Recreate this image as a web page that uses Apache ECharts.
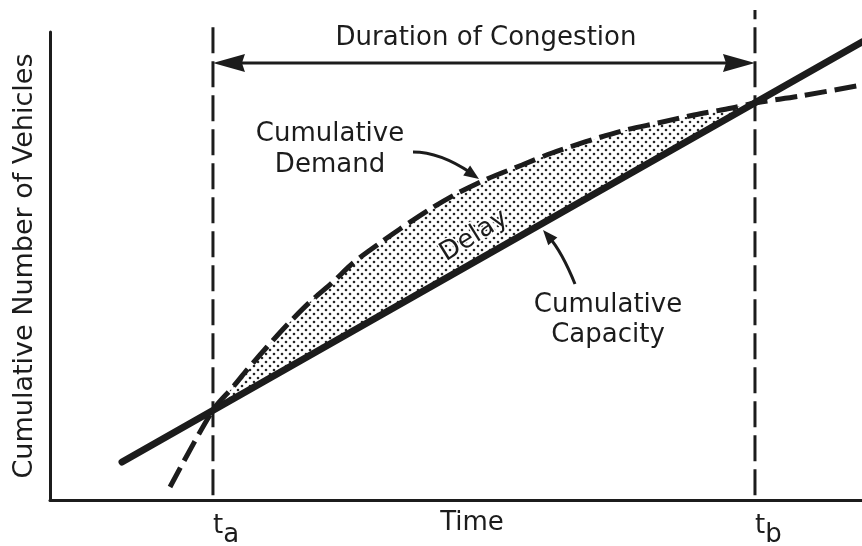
<!DOCTYPE html>
<html><head><meta charset="utf-8">
<script src="https://cdn.jsdelivr.net/npm/echarts@6/dist/echarts.min.js"></script>
<style>html,body{margin:0;padding:0;background:#fff}#c{width:862px;height:546px}</style>
</head><body><div id="c"></div>
<script>
// ---- data (abstract units: time 0..100, vehicles 0..100) ----
const ta = 20.07, tb = 86.82;
const tickValues = [ta, tb];
const tickSubs = ['a', 'b'];
const capacityT = [8.87, 100];
const capacityV = [8.12, 97.86];
const demandT = [14.78, 20.07, 22.54, 24.26, 26.72, 29.19, 32.02, 34.85, 37.32, 40.64, 43.10, 47.04, 50.25, 53.82, 58.13, 61.82, 65.89, 70.44, 74.88, 79.31, 83.99, 86.82, 92.36, 100];
const demandV = [2.78, 19.23, 24.15, 27.78, 32.69, 37.39, 42.31, 46.58, 50.64, 54.91, 57.91, 62.39, 65.60, 68.59, 71.58, 74.15, 76.50, 78.85, 80.56, 82.26, 83.76, 84.83, 86.32, 88.68];
const taLineV = [1, 102.1];
const tbLineV = [1, 104.7];
const durationV = 93.4;

const ink = '#1c1c1c';
const FONT = 'DejaVu Sans';

// dotted pattern for the delay area
const pc = document.createElement('canvas'); pc.width = 8; pc.height = 8;
const g = pc.getContext('2d'); g.fillStyle = '#262626';
[[2, 2], [6, 6]].forEach(([x, y]) => { g.beginPath(); g.arc(x, y, 1.3, 0, Math.PI * 2); g.fill(); });
const dotPattern = { image: pc, repeat: 'repeat' };

function arrowHead(tip, from, L, W) {
  const dx = tip[0] - from[0], dy = tip[1] - from[1];
  const len = Math.hypot(dx, dy); const ux = dx / len, uy = dy / len;
  const bx = tip[0] - ux * L, by = tip[1] - uy * L;
  return [tip, [bx - uy * W, by + ux * W], [bx + uy * W, by - ux * W]];
}

const chart = echarts.init(document.getElementById('c'), null, { renderer: 'canvas' });
const zip = (a, b) => a.map((v, i) => [v, b[i]]);

const demArrowStart = [413, 152], demArrowCtrl = [440, 152], demArrowTip = [479, 179];
const capArrowStart = [575, 284], capArrowCtrl = [562, 252], capArrowTip = [543, 230];

chart.setOption({
  backgroundColor: '#ffffff',
  animation: false,
  grid: { left: 50, right: 0, top: 32, bottom: 46, containLabel: false, outerBoundsMode: 'none' },
  xAxis: {
    type: 'value', min: 0, max: 100,
    axisLine: { show: true, lineStyle: { color: ink, width: 3 } },
    axisTick: { show: false }, splitLine: { show: false },
    axisLabel: {
      show: true, customValues: tickValues, align: 'left', margin: 13,
      formatter: v => '{t|t}{s|' + tickSubs[tickValues.findIndex(x => Math.abs(x - v) < 1e-6)] + '}',
      rich: {
        t: { fontFamily: FONT, fontSize: 26, color: ink, height: 26, lineHeight: 26, verticalAlign: 'top' },
        s: { fontFamily: FONT, fontSize: 26, color: ink, height: 26, lineHeight: 35, verticalAlign: 'bottom' }
      }
    },
    name: 'Time', nameLocation: 'middle', nameGap: 10, nameMoveOverlap: false,
    nameTextStyle: { fontFamily: FONT, fontSize: 26, color: ink, verticalAlign: 'top', padding: [0, 0, 0, 32] }
  },
  yAxis: {
    type: 'value', min: 0, max: 100,
    axisLine: { show: true, lineStyle: { color: ink, width: 3 } },
    axisTick: { show: false }, splitLine: { show: false }, axisLabel: { show: false },
    name: 'Cumulative Number of Vehicles', nameLocation: 'middle', nameRotate: 90, nameGap: 12, nameMoveOverlap: false,
    nameTextStyle: { fontFamily: FONT, fontSize: 27, color: ink }
  },
  series: [
    { type: 'custom', silent: true, z: 1, data: [[ta, 0]],
      renderItem: (p, api) => {
        const pts = [];
        for (let i = 0; i < demandT.length; i++) {
          if (demandT[i] >= ta - 1e-6 && demandT[i] <= tb + 1e-6) pts.push(api.coord([demandT[i], demandV[i]]));
        }
        return { type: 'polygon', shape: { points: pts }, style: { fill: dotPattern } };
      } },
    { type: 'line', name: 'Cumulative Demand', data: zip(demandT, demandV), smooth: 0.3, showSymbol: false, z: 3,
      lineStyle: { color: ink, width: 5, type: [22, 8] } },
    { type: 'line', name: 'Cumulative Capacity', data: zip(capacityT, capacityV), showSymbol: false, z: 4,
      lineStyle: { color: ink, width: 7, cap: 'round' } },
    { type: 'line', data: [[ta, taLineV[0]], [ta, taLineV[1]]], showSymbol: false, clip: false, z: 2,
      lineStyle: { color: ink, width: 3, type: [26, 8] } },
    { type: 'line', data: [[tb, tbLineV[0]], [tb, tbLineV[1]]], showSymbol: false, clip: false, z: 2,
      lineStyle: { color: ink, width: 3, type: [26, 8] } },
    { type: 'custom', silent: true, z: 5, data: [[ta, durationV]],
      renderItem: (p, api) => {
        const a = api.coord([ta, durationV]), b = api.coord([tb, durationV]);
        const L = 32, W = 9, N = 3;
        return { type: 'group', children: [
          { type: 'line', shape: { x1: a[0] + L - N, y1: a[1], x2: b[0] - L + N, y2: b[1] }, style: { stroke: ink, lineWidth: 3 } },
          { type: 'polygon', shape: { points: [a, [a[0] + L, a[1] - W], [a[0] + L - N, a[1]], [a[0] + L, a[1] + W]] }, style: { fill: ink } },
          { type: 'polygon', shape: { points: [b, [b[0] - L, b[1] - W], [b[0] - L + N, b[1]], [b[0] - L, b[1] + W]] }, style: { fill: ink } }
        ] };
      } }
  ],
  graphic: [
    { type: 'text', x: 486, y: 38, style: { text: 'Duration of Congestion', font: '26px "DejaVu Sans"', fill: ink, align: 'center', verticalAlign: 'middle' } },
    { type: 'text', x: 330, y: 150, style: { text: 'Cumulative\nDemand', font: '26px "DejaVu Sans"', lineHeight: 31, fill: ink, align: 'center', verticalAlign: 'middle' } },
    { type: 'text', x: 608, y: 320, style: { text: 'Cumulative\nCapacity', font: '26px "DejaVu Sans"', lineHeight: 30, fill: ink, align: 'center', verticalAlign: 'middle' } },
    { type: 'text', x: 474, y: 236, rotation: 32 * Math.PI / 180, z: 2,
      style: { text: 'Delay', font: '26px "DejaVu Sans"', fill: ink, align: 'center', verticalAlign: 'middle', stroke: '#fff', lineWidth: 3 } },
    { type: 'bezierCurve', shape: { x1: demArrowStart[0], y1: demArrowStart[1], cpx1: demArrowCtrl[0], cpy1: demArrowCtrl[1], x2: demArrowTip[0] - 8, y2: demArrowTip[1] - 6 }, style: { stroke: ink, lineWidth: 3, fill: null } },
    { type: 'polygon', shape: { points: arrowHead(demArrowTip, demArrowCtrl, 15, 6) }, style: { fill: ink } },
    { type: 'bezierCurve', shape: { x1: capArrowStart[0], y1: capArrowStart[1], cpx1: capArrowCtrl[0], cpy1: capArrowCtrl[1], x2: capArrowTip[0] + 6, y2: capArrowTip[1] + 7 }, style: { stroke: ink, lineWidth: 3, fill: null } },
    { type: 'polygon', shape: { points: arrowHead(capArrowTip, capArrowCtrl, 15, 6) }, style: { fill: ink } }
  ]
});
</script></body></html>
